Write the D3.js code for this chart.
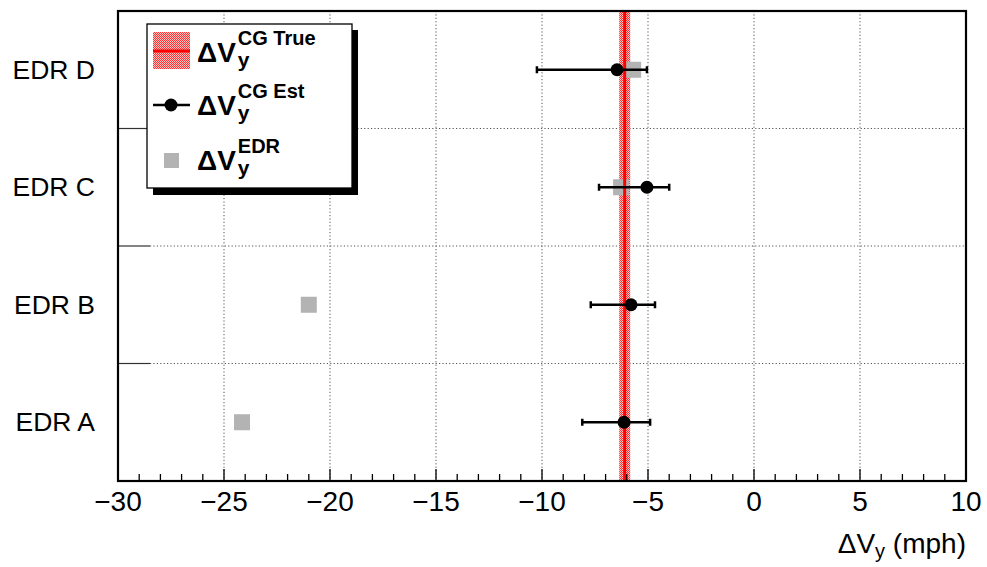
<html>
<script src="https://d3js.org/d3.v7.min.js"></script>
<meta charset="UTF-8">
<style>
    body { margin: 0; background: #fff; }
    text { font-family: "Liberation Sans", Arial, sans-serif; }
</style>
<body>
<svg width="987" height="567" id="canvas"></svg>
</body>
<script>
    // categories, bottom to top
    var categories = ["EDR A", "EDR B", "EDR C", "EDR D"];
    // CG estimate with asymmetric errors
    var estValues = [-6.13, -5.8, -5.05, -6.46];
    var estLow = [-8.1, -7.7, -7.31, -10.24];
    var estHigh = [-4.9, -4.67, -4.0, -5.05];
    // EDR values
    var edrValues = [-24.15, -21.0, -6.27, -5.7];
    // true value and its band
    var trueValue = -6.1;
    var trueBand = [-6.36, -5.84];
    var xTicks = [-30, -25, -20, -15, -10, -5, 0, 5, 10];

    var svg = d3.select("#canvas"),
        pLeft = 118, pRight = 966, pTop = 11, pBottom = 481;

    var x = d3.scaleLinear().domain([-30, 10]).range([pLeft, pRight]);
    var y = d3.scaleBand().domain(categories).range([pBottom, pTop]);

    var defs = svg.append("defs");
    var pat = defs.append("pattern")
        .attr("id", "hatch")
        .attr("width", 2).attr("height", 2)
        .attr("patternUnits", "userSpaceOnUse");
    pat.append("rect").attr("width", 2).attr("height", 2).attr("fill", "#ffc0c0");
    pat.append("rect").attr("width", 1).attr("height", 1).attr("fill", "#f33");
    pat.append("rect").attr("x", 1).attr("y", 1).attr("width", 1).attr("height", 1).attr("fill", "#f33");

    // vertical grid
    svg.append("g").selectAll("line")
        .data(xTicks.filter(function (d) { return d > -30 && d < 10; }))
        .enter().append("line")
        .attr("x1", d => x(d)).attr("x2", d => x(d))
        .attr("y1", pTop).attr("y2", pBottom)
        .attr("stroke", "#555").attr("stroke-width", 1)
        .attr("stroke-dasharray", "1.2,2.2");

    // horizontal grid at band boundaries
    var bounds = categories.slice(1).map(function (c) { return y(c) + y.bandwidth(); });
    svg.append("g").selectAll("line")
        .data(bounds)
        .enter().append("line")
        .attr("x1", pLeft + 32).attr("x2", pRight)
        .attr("y1", d => d).attr("y2", d => d)
        .attr("stroke", "#555").attr("stroke-width", 1)
        .attr("stroke-dasharray", "1.2,2.2");
    svg.append("g").selectAll("line")
        .data(bounds)
        .enter().append("line")
        .attr("x1", pLeft).attr("x2", pLeft + 32)
        .attr("y1", d => d).attr("y2", d => d)
        .attr("stroke", "#333").attr("stroke-width", 1.2);

    // true band (hatched)
    svg.append("rect")
        .attr("x", x(trueBand[0])).attr("y", pTop)
        .attr("width", x(trueBand[1]) - x(trueBand[0]))
        .attr("height", pBottom - pTop)
        .attr("fill", "url(#hatch)");

    // EDR squares
    svg.append("g").selectAll("rect")
        .data(edrValues)
        .enter().append("rect")
        .attr("x", d => x(d) - 8)
        .attr("y", (d, i) => y(categories[i]) + y.bandwidth() / 2 - 8)
        .attr("width", 16).attr("height", 16)
        .attr("fill", "#b3b3b3");

    // true value line
    svg.append("line")
        .attr("x1", x(trueValue)).attr("x2", x(trueValue))
        .attr("y1", pTop).attr("y2", pBottom)
        .attr("stroke", "#f00").attr("stroke-width", 3);

    // estimates with error bars
    var est = svg.append("g");
    categories.forEach(function (c, i) {
        var cy = y(c) + y.bandwidth() / 2;
        est.append("line")
            .attr("x1", x(estLow[i])).attr("x2", x(estHigh[i]))
            .attr("y1", cy).attr("y2", cy)
            .attr("stroke", "#000").attr("stroke-width", 2.5);
        [estLow[i], estHigh[i]].forEach(function (v) {
            est.append("line")
                .attr("x1", x(v)).attr("x2", x(v))
                .attr("y1", cy - 3.5).attr("y2", cy + 3.5)
                .attr("stroke", "#000").attr("stroke-width", 2.5);
        });
        est.append("circle")
            .attr("cx", x(estValues[i])).attr("cy", cy)
            .attr("r", 6.5).attr("fill", "#000");
    });

    // x ticks (major + minor)
    var minor = d3.range(-30, 11, 1);
    svg.append("g").selectAll("line")
        .data(minor)
        .enter().append("line")
        .attr("x1", d => x(d)).attr("x2", d => x(d))
        .attr("y1", pBottom)
        .attr("y2", d => pBottom - (d % 5 === 0 ? 12 : 7))
        .attr("stroke", "#000").attr("stroke-width", 1.3);

    svg.append("g").selectAll("text")
        .data(xTicks)
        .enter().append("text")
        .attr("x", d => x(d))
        .attr("y", 511)
        .attr("text-anchor", "middle")
        .attr("font-size", 28)
        .text(d => d < 0 ? "\u2212" + Math.abs(d) : d);

    // y labels
    svg.append("g").selectAll("text")
        .data(categories)
        .enter().append("text")
        .attr("x", 95)
        .attr("y", d => y(d) + y.bandwidth() / 2 + 9)
        .attr("text-anchor", "end")
        .attr("font-size", 26.5)
        .text(d => d);

    // frame
    svg.append("rect")
        .attr("x", pLeft).attr("y", pTop)
        .attr("width", pRight - pLeft).attr("height", pBottom - pTop)
        .attr("fill", "none").attr("stroke", "#000").attr("stroke-width", 2.2);

    // axis title
    var title = svg.append("text")
        .attr("x", pRight).attr("y", 553)
        .attr("text-anchor", "end")
        .attr("font-size", 28);
    title.append("tspan").text("\u0394V");
    title.append("tspan").attr("font-size", 20).attr("dy", 5).text("y");
    title.append("tspan").attr("dy", -5).text(" (mph)");

    // legend
    var lg = svg.append("g");
    lg.append("rect").attr("x", 153).attr("y", 30).attr("width", 205).attr("height", 165).attr("fill", "#000");
    lg.append("rect").attr("x", 147).attr("y", 24).attr("width", 205).attr("height", 164)
        .attr("fill", "#fff").attr("stroke", "#000").attr("stroke-width", 1.3);

    lg.append("rect").attr("x", 153).attr("y", 32).attr("width", 37).attr("height", 37).attr("fill", "url(#hatch)");
    lg.append("line").attr("x1", 153).attr("x2", 190).attr("y1", 51).attr("y2", 51)
        .attr("stroke", "#f00").attr("stroke-width", 3);

    lg.append("line").attr("x1", 153).attr("x2", 190).attr("y1", 105).attr("y2", 105)
        .attr("stroke", "#000").attr("stroke-width", 2.5);
    lg.append("circle").attr("cx", 171).attr("cy", 105).attr("r", 6.5).attr("fill", "#000");

    lg.append("rect").attr("x", 164).attr("y", 153).attr("width", 15).attr("height", 15).attr("fill", "#b3b3b3");

    var entries = [
        { sup: "CG True", base: 62 },
        { sup: "CG Est", base: 115 },
        { sup: "EDR", base: 170 }
    ];
    entries.forEach(function (e) {
        var t = lg.append("text").attr("x", 197).attr("y", e.base)
            .attr("font-size", 28).attr("font-weight", "bold").text("\u0394V");
        var w = t.node().getComputedTextLength();
        lg.append("text").attr("x", 197 + w + 2).attr("y", e.base + 5)
            .attr("font-size", 21).attr("font-weight", "bold").text("y");
        lg.append("text").attr("x", 197 + w + 2).attr("y", e.base - 17)
            .attr("font-size", 20).attr("font-weight", "bold").text(e.sup);
    });
</script>
</html>
